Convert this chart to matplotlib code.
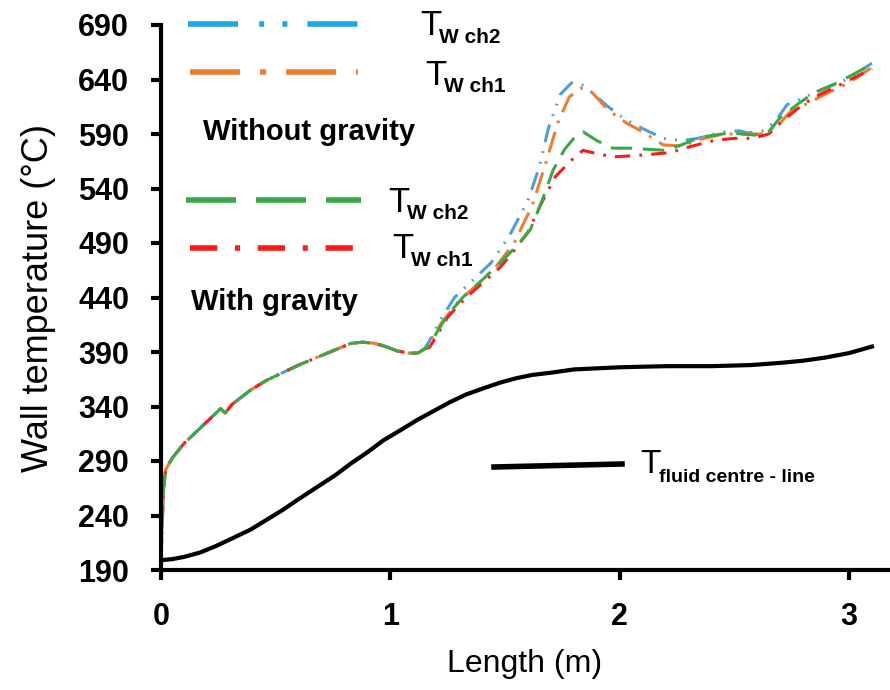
import matplotlib
matplotlib.use("Agg")
import matplotlib.pyplot as plt
from matplotlib.lines import Line2D

plt.rcParams['font.family'] = ['Liberation Sans', 'DejaVu Sans']

# ---------------- data ----------------
x_common = [0, 0.005, 0.01, 0.02, 0.05, 0.1, 0.16, 0.22, 0.26, 0.28, 0.31, 0.39, 0.46,
            0.53, 0.6, 0.68, 0.76, 0.83, 0.88, 0.93, 0.98, 1.03, 1.08, 1.12, 1.15]
y_common = [200, 230, 262, 282, 293, 306, 318, 330, 338, 334, 342, 355, 364,
            371, 378, 385, 392, 398, 399, 398, 395, 391, 389, 389, 393]

x_nog_ch2 = [1.17, 1.22, 1.28, 1.36, 1.44, 1.52, 1.60, 1.65, 1.69, 1.74, 1.79, 1.83, 1.88,
             1.95, 2.02, 2.10, 2.19, 2.27, 2.34, 2.45, 2.52, 2.56, 2.63, 2.68, 2.73, 2.80,
             2.85, 2.93, 3.00, 3.10]
y_nog_ch2 = [400, 420, 440, 456, 472, 497, 529, 560, 596, 626, 637, 636, 628,
             615, 604, 595, 586, 584, 586, 592, 593, 591, 593, 602, 617, 623,
             628, 635, 641, 655]

x_nog_ch1 = [1.17, 1.22, 1.30, 1.38, 1.46, 1.54, 1.62, 1.68, 1.73, 1.78, 1.83, 1.88, 1.95,
             2.03, 2.10, 2.19, 2.27, 2.35, 2.45, 2.55, 2.63, 2.70, 2.75, 2.82, 2.90, 3.00, 3.10]
y_nog_ch1 = [398, 416, 437, 452, 468, 490, 525, 565, 600, 624, 632, 628, 612,
             600, 592, 580, 579, 585, 590, 590, 590, 600, 612, 618, 627, 637, 651]

x_g_ch2 = [1.17, 1.20, 1.25, 1.32, 1.40, 1.48, 1.55, 1.61, 1.66, 1.71, 1.76, 1.80, 1.84,
           1.90, 1.97, 2.05, 2.12, 2.20, 2.27, 2.35, 2.48, 2.59, 2.65, 2.70, 2.78, 2.85,
           2.95, 3.10]
y_g_ch2 = [396, 407, 424, 441, 456, 472, 487, 502, 528, 557, 576, 586, 592,
           584, 577, 577, 576, 575, 580, 587, 591, 589, 592, 605, 618, 628,
           637, 654]

x_g_ch1 = [1.17, 1.20, 1.25, 1.32, 1.40, 1.48, 1.54, 1.60, 1.66, 1.72, 1.79, 1.84, 1.90,
           1.97, 2.05, 2.12, 2.22, 2.30, 2.41, 2.50, 2.58, 2.65, 2.70, 2.78, 2.85, 2.95, 3.10]
y_g_ch1 = [394, 404, 422, 438, 453, 468, 483, 500, 527, 551, 566, 575, 572,
           569, 570, 571, 573, 578, 584, 586, 586, 590, 600, 614, 624, 634, 650]

x_fluid = [0, 0.05, 0.1, 0.17, 0.24, 0.31, 0.39, 0.46, 0.53, 0.6, 0.68, 0.76, 0.83, 0.9,
           0.97, 1.05, 1.12, 1.19, 1.26, 1.33, 1.41, 1.48, 1.55, 1.62, 1.7, 1.8, 1.9, 2.0,
           2.2, 2.4, 2.57, 2.7, 2.8, 2.9, 3.0, 3.1]
y_fluid = [199, 200, 202, 206, 212, 219, 227, 236, 245, 255, 266, 277, 288, 298,
           309, 319, 328, 336, 344, 351, 357, 362, 366, 369, 371, 374, 375, 376,
           377, 377, 378, 380, 382, 385, 389, 395]

xticks = [0, 1, 2, 3]
yticks = [190, 240, 290, 340, 390, 440, 490, 540, 590, 640, 690]

# ---------------- styles ----------------
C_BLUE = '#4d9fdc'
C_ORANGE = '#ed7d31'
C_GREEN = '#3aa845'
C_RED = '#ff1a1a'
LW = 2.2
style = {
    'nog_ch2': dict(color=C_BLUE, dashes=(6, 3, 0.6, 3, 0.6, 3)),
    'nog_ch1': dict(color=C_ORANGE, dashes=(7, 3, 0.9, 3)),
    'g_ch2': dict(color=C_GREEN, dashes=(7, 3.5)),
    'g_ch1': dict(color=C_RED, dashes=(5, 3, 0.9, 3)),
}

fig = plt.figure(figsize=(8.9, 6.9), dpi=100)
ax = fig.add_axes([161/890, 1 - 570/690, (888-161)/890, (570-25)/690])

def full(xa, ya):
    return x_common + xa, y_common + ya

for key, (xa, ya) in {'nog_ch2': (x_nog_ch2, y_nog_ch2), 'nog_ch1': (x_nog_ch1, y_nog_ch1),
                      'g_ch1': (x_g_ch1, y_g_ch1), 'g_ch2': (x_g_ch2, y_g_ch2)}.items():
    xs, ys = full(xa, ya)
    ax.plot(xs, ys, lw=LW, dash_capstyle='butt', **style[key])

ax.plot(x_fluid, y_fluid, color='black', lw=3)

ax.set_xlim(0, 3.17)
ax.set_ylim(190, 690)
ax.set_xticks(xticks)
ax.set_yticks(yticks)
ax.spines['top'].set_visible(False)
ax.spines['right'].set_visible(False)
for s in ('left', 'bottom'):
    ax.spines[s].set_linewidth(3)
ax.tick_params(axis='both', direction='out', length=7, width=3, pad=16)
for lab in ax.get_xticklabels() + ax.get_yticklabels():
    lab.set_fontsize(22)
    lab.set_fontweight('bold')

ax.set_xlabel('Length (m)', fontsize=23, labelpad=12)
ax.set_ylabel('Wall temperature (°C)', fontsize=26, labelpad=16)

# ---------------- manual legend ----------------
def fx(px):
    return px / 890
def fy(py):
    return 1 - py / 690

leg_style = {
    'nog_ch2': dict(color='#1fa6e2', dashes=(9, 3.8, 0.9, 3.3, 0.9, 3.6)),
    'nog_ch1': dict(color=C_ORANGE, dashes=(9, 3.6, 1.1, 3.6)),
    'g_ch2': dict(color=C_GREEN, dashes=(9, 3.6)),
    'g_ch1': dict(color=C_RED, dashes=(4.9, 3.2, 0.9, 3.2)),
}
# key, line x0, x1, line y, T x, T baseline, sub x, sub baseline, subscript
legend_rows = [('nog_ch2', 188, 358, 24, 420, 35, 439, 43, 'W ch2'),
               ('nog_ch1', 190, 358, 72, 425, 85, 444, 92, 'W ch1'),
               ('g_ch2', 186, 361, 200, 388, 212, 407, 219, 'W ch2'),
               ('g_ch1', 190, 353, 248, 392, 258, 411, 266, 'W ch1')]
for key, x0, x1, py, tx, tb, sx, sb, sub in legend_rows:
    fig.add_artist(Line2D([fx(x0), fx(x1)], [fy(py), fy(py)], lw=4, transform=fig.transFigure,
                          **leg_style[key]))
    fig.text(fx(tx), fy(tb), 'T', fontsize=25, ha='left', va='baseline')
    fig.text(fx(sx), fy(sb), sub, fontsize=15, fontweight='bold', ha='left', va='baseline')

fig.text(fx(203), fy(132), 'Without gravity', fontsize=21, fontweight='bold', ha='left', va='center')
fig.text(fx(191), fy(302), 'With gravity', fontsize=21, fontweight='bold', ha='left', va='center')

fig.add_artist(Line2D([fx(494), fx(622)], [fy(467), fy(464)], lw=4, color='black',
                      transform=fig.transFigure))
fig.text(fx(640), fy(473), 'T', fontsize=24, ha='left', va='baseline')
fig.text(fx(659), fy(482), 'fluid centre - line', fontsize=14, fontweight='bold', ha='left', va='baseline')

fig.savefig('out.png', dpi=100)
